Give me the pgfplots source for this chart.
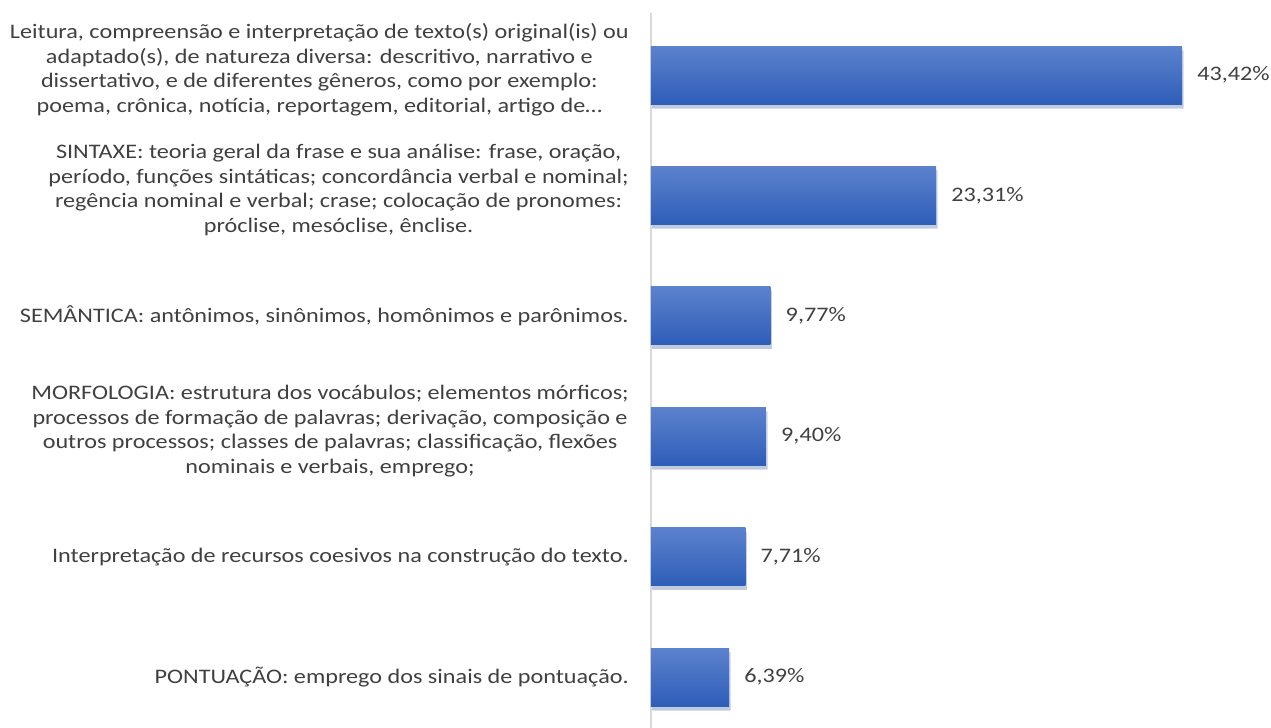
\documentclass[border=0pt]{standalone}
\usepackage{pgfplots}
\pgfplotsset{compat=1.18}
\usepackage{fontspec}
\setmainfont[FakeStretch=1.17]{Carlito}
\usetikzlibrary{shadows}
\definecolor{txt}{HTML}{404040}
\definecolor{bartop}{HTML}{5C82CE}
\definecolor{barbot}{HTML}{2E5EB8}
\definecolor{axgray}{HTML}{D9D9D9}
\begin{document}
\begin{tikzpicture}
\useasboundingbox (-488.25pt,8.25pt) rectangle (465pt,554.25pt);
\begin{axis}[
  at={(0pt,0pt)}, anchor=south west,
  scale only axis,
  width=458.625pt, height=544.5pt,
  xmin=0, xmax=50,
  ymin=-0.515, ymax=5.515,
  y dir=reverse,
  xbar, bar width=43.5pt, bar shift=0pt,
  axis x line=none,
  axis y line*=left,
  y axis line style={axgray, line width=1.5pt, -},
  major tick length=0pt,
  ytick={0,1,3},
  yticklabels={
    {Leitura, compreensão e interpretação de texto(s) original(is) ou\\adaptado(s), de natureza diversa: descritivo, narrativo e\\dissertativo, e de diferentes gêneros, como por exemplo:\\poema, crônica, notícia, reportagem, editorial, artigo de…},
    {SINTAXE: teoria geral da frase e sua análise: frase, oração,\\período, funções sintáticas; concordância verbal e nominal;\\regência nominal e verbal; crase; colocação de pronomes:\\próclise, mesóclise, ênclise.},
    {MORFOLOGIA: estrutura dos vocábulos; elementos mórficos;\\processos de formação de palavras; derivação, composição e\\outros processos; classes de palavras; classificação, flexões\\nominais e verbais, emprego;}
  },
  yticklabel style={align=center, anchor=east, inner sep=0pt, xshift=-16.5pt, yshift=4pt,
    font=\fontsize{15.5}{18.4}\selectfont, text=txt},
  extra y ticks={2,4,5},
  extra y tick labels={
    {SEMÂNTICA: antônimos, sinônimos, homônimos e parônimos.},
    {Interpretação de recursos coesivos na construção do texto.},
    {PONTUAÇÃO: emprego dos sinais de pontuação.}
  },
  extra y tick style={yticklabel style={yshift=-4pt}},
  point meta=x,
  nodes near coords={\pgfmathprintnumber[fixed, fixed zerofill, precision=2, use comma, assume math mode=true]{\pgfplotspointmeta}\%},
  nodes near coords style={anchor=west, inner sep=0pt, xshift=11.25pt,
    font=\fontsize{15.5}{18.4}\selectfont, text=txt},
  every axis plot/.append style={draw=none, top color=bartop, bottom color=barbot,
    drop shadow={opacity=0.2, shadow xshift=1pt, shadow yshift=-3pt}},
  clip=false,
]
\addplot coordinates {(43.42,0)};
\addplot coordinates {(23.31,1)};
\addplot coordinates {(9.77,2)};
\addplot coordinates {(9.40,3)};
\addplot coordinates {(7.71,4)};
\addplot coordinates {(6.39,5)};
\end{axis}
\end{tikzpicture}
\end{document}
